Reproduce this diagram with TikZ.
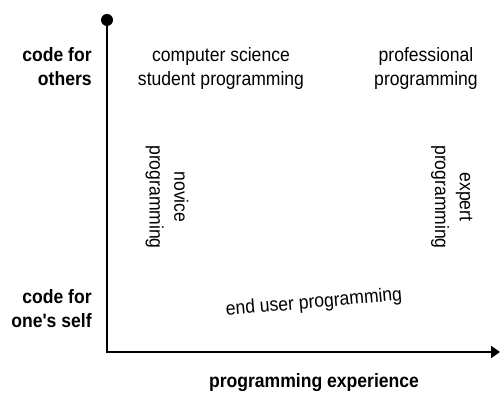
\documentclass[tikz,border=0pt]{standalone}
\usepackage{fontspec}
\usepackage{graphicx}
\setmainfont{Liberation Sans}
\usetikzlibrary{arrows.meta}
% slightly tall lettering, as in the original figure
\newcommand{\tallc}[1]{\scalebox{1}[1.1]{\begin{tabular}{@{}c@{}}#1\end{tabular}}}
\newcommand{\tallr}[1]{\scalebox{1}[1.1]{\begin{tabular}{@{}r@{}}#1\end{tabular}}}
\begin{document}
\begin{tikzpicture}[
        txt/.style={font=\fontsize{10}{12.9}\selectfont,inner sep=0pt},
        axtxt/.style={txt,font=\fontsize{10}{12.9}\selectfont\bfseries}]
        \useasboundingbox (0,0) rectangle (10,7.92);
        \coordinate (top) at (2.14,7.52);
        \coordinate (origin) at (2.14,0.88);
        \coordinate (xend) at (10,0.88);
        \draw[line width=1pt,-{Triangle[length=0.18cm,width=0.24cm]}] (top) -- (origin) -- (xend);
        \fill (top) circle (0.12);
        % axis labels
        \node[axtxt,anchor=east] (others) at (1.84,6.55) {\tallr{code for\\others}};
        \node[axtxt,anchor=east] (self) at (1.84,1.71) {\tallr{code for\\one\textquotesingle s self}};
        \node[axtxt] (experience) at (6.28,0.26) {\tallc{programming experience}};
        % kinds of programming
        \node[txt] (cs) at (4.42,6.55) {\tallc{computer science\\student programming}};
        \node[txt] (prof) at (8.52,6.55) {\tallc{professional\\programming}};
        \node[txt,rotate=-90] (novice) at (3.34,3.98) {\tallc{novice\\programming}};
        \node[txt,rotate=-90] (expert) at (9.05,3.98) {\tallc{expert\\programming}};
        \node[txt,rotate=5] (enduser) at (6.28,1.86) {\tallc{end user programming}};
    \end{tikzpicture}
\end{document}
